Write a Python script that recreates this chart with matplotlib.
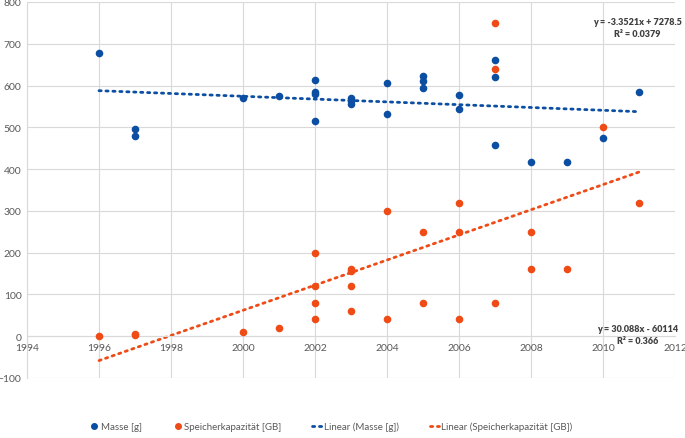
import numpy as np
import matplotlib

matplotlib.use("Agg")
import matplotlib.pyplot as plt
from matplotlib.lines import Line2D

plt.rcParams["font.family"] = ["Lato", "DejaVu Sans"]

# Masse [g] per year
masse_year = [1996, 1997, 1997, 2000, 2001, 2002, 2002, 2002, 2002, 2003, 2003, 2003,
              2004, 2004, 2005, 2005, 2005, 2006, 2006, 2007, 2007, 2007, 2008, 2009,
              2010, 2011]
masse_g = [679, 497, 479, 569, 576, 613, 584, 580, 516, 569, 562, 555,
           606, 533, 622, 611, 593, 578, 544, 661, 621, 457, 416, 418,
           474, 585]

# Speicherkapazitaet [GB] per year
speicher_year = [1996, 1997, 1997, 2000, 2001, 2002, 2002, 2002, 2002, 2003, 2003, 2003,
                 2003, 2004, 2004, 2005, 2005, 2006, 2006, 2006, 2007, 2007, 2007, 2008,
                 2008, 2009, 2010, 2011]
speicher_gb = [0, 6, 4, 10, 20, 200, 119, 80, 40, 160, 155, 119,
               61, 299, 40, 250, 80, 320, 250, 40, 750, 640, 80, 250,
               160, 160, 500, 320]

# trend line coefficients as printed in the chart
masse_fit = (-3.3521, 7278.5)
speicher_fit = (30.088, -60114)
trend_x = [1996, 2011]

BLUE = "#0b4ea2"
ORANGE = "#ee4b16"
GRID = "#d9d9d9"
TEXT = "#595959"

fig = plt.figure(figsize=(6.85, 4.39), dpi=100)
ax = fig.add_axes([0.0394, 0.1367, 0.946, 0.8565])

ax.scatter(masse_year, masse_g, s=30, color=BLUE, zorder=3, linewidths=0)
ax.scatter(speicher_year, speicher_gb, s=30, color=ORANGE, zorder=3, linewidths=0)

tx = np.array(trend_x, dtype=float)
dot = (0, (0.8, 1.7))
ax.plot(tx, masse_fit[0] * tx + masse_fit[1], color=BLUE, lw=2, ls=dot,
        dash_capstyle="round", zorder=2)
ax.plot(tx, speicher_fit[0] * tx + speicher_fit[1], color=ORANGE, lw=2, ls=dot,
        dash_capstyle="round", zorder=2)

ax.set_xlim(1994, 2012)
ax.set_ylim(-100, 800)
ax.set_xticks(range(1994, 2013, 2))
ax.set_yticks(range(-100, 801, 100))
ax.grid(True, color=GRID, lw=0.8)
ax.set_axisbelow(True)

for side in ("top", "right"):
    ax.spines[side].set_visible(False)
ax.spines["bottom"].set_position(("data", 0))
ax.spines["bottom"].set_color(GRID)
ax.spines["left"].set_color(GRID)
ax.tick_params(length=0, labelsize=7.5, labelcolor=TEXT, pad=4)
ax.tick_params(axis="x", pad=5)

ax.text(2010.95, 763, "y = -3.3521x + 7278.5\nR² = 0.0379", ha="center", va="top",
        fontsize=6.5, fontweight="heavy", color="#404040", linespacing=1.35)
ax.text(2010.95, 29, "y = 30.088x - 60114\nR² = 0.366", ha="center", va="top",
        fontsize=6.5, fontweight="heavy", color="#404040", linespacing=1.35)

handles = [
    Line2D([], [], ls="none", marker="o", ms=4, color=BLUE, mec=BLUE),
    Line2D([], [], ls="none", marker="o", ms=4, color=ORANGE, mec=ORANGE),
    Line2D([], [], color=BLUE, lw=2, ls=dot, dash_capstyle="round"),
    Line2D([], [], color=ORANGE, lw=2, ls=dot, dash_capstyle="round"),
]
labels = ["Masse [g]", "Speicherkapazität [GB]", "Linear (Masse [g])",
          "Linear (Speicherkapazität [GB])"]
fig.legend(handles, labels, loc="lower left", bbox_to_anchor=(0.118, -0.005), ncol=4,
           frameon=False, fontsize=7, labelcolor=TEXT, handlelength=1.0,
           handletextpad=0.15, columnspacing=3.2)

fig.savefig("out.png", dpi=100)
